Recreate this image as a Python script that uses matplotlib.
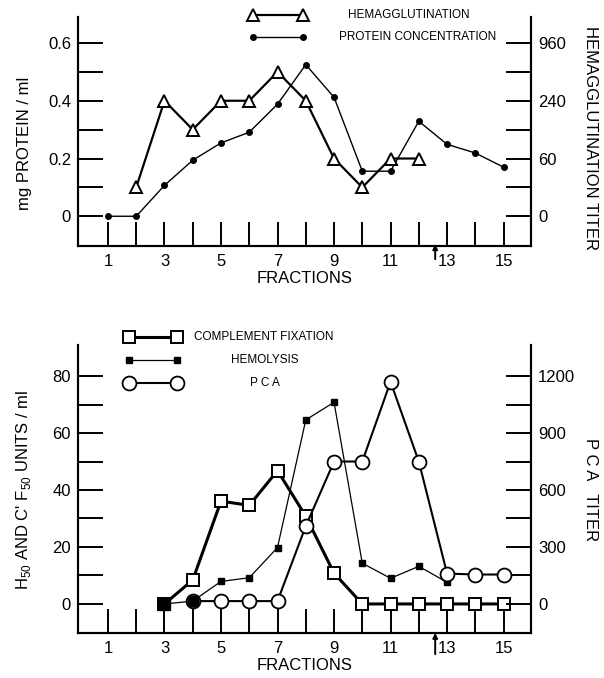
import matplotlib
matplotlib.use("Agg")
import matplotlib.pyplot as plt
import matplotlib.transforms as mtransforms
import numpy as np
from matplotlib.lines import Line2D
from matplotlib.ticker import FixedFormatter, FixedLocator, NullFormatter

plt.rcParams["font.family"] = ["Liberation Sans", "DejaVu Sans"]

# --- top panel: protein and hemagglutination per fraction ---
FRACTIONS = np.arange(1, 16)
PROTEIN_MG_ML = [0.0, 0.0, 0.107, 0.194, 0.254, 0.291, 0.388, 0.525,
                 0.412, 0.156, 0.156, 0.329, 0.249, 0.219, 0.170]
HA_FRACTIONS = np.arange(2, 13)
HA_TITER = [30, 240, 120, 240, 240, 480, 240, 60, 30, 60, 60]
HA_TICKS = [15, 60, 240, 960]          # lowest step of the dilution scale is printed as 0
HA_TICK_LABELS = ["0", "60", "240", "960"]
HA_MINOR = [30, 120, 480]

# --- bottom panel: complement fixation, hemolysis, PCA ---
CF_FRACTIONS = np.arange(3, 16)
CF_UNITS = [0, 8.4, 36.1, 34.6, 46.8, 30.8, 10.8, 0, 0, 0, 0, 0, 0]
HEMOLYSIS_FRACTIONS = np.arange(3, 14)
HEMOLYSIS_UNITS = [0, 1, 7.9, 9.2, 19.8, 64.6, 70.8, 14.3, 9.0, 13.2, 7.6]
PCA_FRACTIONS = np.arange(4, 16)
PCA_TITER = [15, 15, 15, 15, 410, 750, 750, 1170, 750, 160, 155, 155]

X_TICKS = list(range(1, 16))
X_TICK_LABELS = [str(f) if f % 2 else "" for f in X_TICKS]

W_PX, H_PX = 604, 678


def fig_xy(x, y):
    return x / W_PX, 1 - y / H_PX


def ha_fwd(t):
    t = np.maximum(np.asarray(t, dtype=float), 1e-6)
    return 0.2 + 0.2 * np.log(t / 60.0) / np.log(4.0)


def ha_inv(y):
    return 60.0 * 4.0 ** ((np.asarray(y, dtype=float) - 0.2) / 0.2)


def style_axes(ax):
    ax.spines["top"].set_visible(False)
    for spine in ax.spines.values():
        spine.set_linewidth(1.5)
    ax.set_xlim(-0.06, 15.97)
    ax.xaxis.set_major_locator(FixedLocator(X_TICKS))
    ax.xaxis.set_major_formatter(FixedFormatter(X_TICK_LABELS))
    ax.tick_params(axis="x", direction="in", length=17, width=1.4, pad=6, labelsize=12)
    ax.tick_params(axis="y", which="both", direction="in", length=18, width=1.4,
                   pad=5, labelsize=12)
    ax.set_xlabel("FRACTIONS", fontsize=12, labelpad=1)


def fraction_arrow(ax, top, bottom):
    trans = mtransforms.blended_transform_factory(ax.transData, ax.transAxes)
    ax.annotate("", xy=(12.58, top), xytext=(12.58, bottom), xycoords=trans,
                textcoords=trans, annotation_clip=False,
                arrowprops=dict(arrowstyle="-|>", lw=1.4, color="black", mutation_scale=7))


def legend_row(fig, x0, x1, y, text_x, label, **line_kw):
    fx0, fy = fig_xy(x0, y)
    fx1, _ = fig_xy(x1, y)
    fig.add_artist(Line2D([fx0, fx1], [fy, fy], transform=fig.transFigure, **line_kw))
    tx, _ = fig_xy(text_x, y)
    fig.text(tx, fy, label, ha="center", va="center", fontsize=8.5)


fig = plt.figure(figsize=(6.04, 6.78), dpi=100)

# top panel
ax_top = fig.add_axes([78 / W_PX, 1 - 246 / H_PX, 453 / W_PX, 229 / H_PX])
style_axes(ax_top)
ax_top.set_ylim(-0.103, 0.69)
ax_top.yaxis.set_major_locator(FixedLocator([0, 0.2, 0.4, 0.6]))
ax_top.yaxis.set_major_formatter(FixedFormatter(["0", "0.2", "0.4", "0.6"]))
ax_top.yaxis.set_minor_locator(FixedLocator([0.1, 0.3, 0.5]))
ax_top.plot(FRACTIONS, PROTEIN_MG_ML, color="black", lw=1.0, marker="o", ms=4)

ax_ha = ax_top.twinx()
ax_ha.spines["top"].set_visible(False)
for spine in ax_ha.spines.values():
    spine.set_linewidth(1.5)
ax_ha.set_yscale("function", functions=(ha_fwd, ha_inv))
ax_ha.set_ylim(float(ha_inv(-0.103)), float(ha_inv(0.69)))
ax_ha.yaxis.set_major_locator(FixedLocator(HA_TICKS))
ax_ha.yaxis.set_major_formatter(FixedFormatter(HA_TICK_LABELS))
ax_ha.yaxis.set_minor_locator(FixedLocator(HA_MINOR))
ax_ha.yaxis.set_minor_formatter(NullFormatter())
ax_ha.tick_params(axis="y", which="both", direction="in", length=18, width=1.4,
                  pad=5, labelsize=12)
ax_ha.plot(HA_FRACTIONS, HA_TITER, color="black", lw=1.6, marker="^", ms=9,
           mfc="white", mew=1.4)
fraction_arrow(ax_top, 0.02, -0.07)

# bottom panel
ax_bot = fig.add_axes([78 / W_PX, 1 - 633 / H_PX, 453 / W_PX, 288 / H_PX])
style_axes(ax_bot)
ax_bot.set_ylim(-10.2, 90.9)
ax_bot.yaxis.set_major_locator(FixedLocator([0, 20, 40, 60, 80]))
ax_bot.yaxis.set_minor_locator(FixedLocator([10, 30, 50, 70]))
ax_bot.plot(HEMOLYSIS_FRACTIONS, HEMOLYSIS_UNITS, color="black", lw=0.9, marker="s", ms=4)
ax_bot.plot(CF_FRACTIONS, CF_UNITS, color="black", lw=2.2, marker="s", ms=9,
            mfc="white", mew=1.4)
ax_bot.plot(CF_FRACTIONS[:1], CF_UNITS[:1], color="black", marker="s", ms=9, ls="none")

ax_pca = ax_bot.twinx()
ax_pca.spines["top"].set_visible(False)
for spine in ax_pca.spines.values():
    spine.set_linewidth(1.5)
ax_pca.set_ylim(-10.2 * 15, 90.9 * 15)
ax_pca.yaxis.set_major_locator(FixedLocator([0, 300, 600, 900, 1200]))
ax_pca.yaxis.set_minor_locator(FixedLocator([150, 450, 750, 1050]))
ax_pca.tick_params(axis="y", which="both", direction="in", length=18, width=1.4,
                   pad=5, labelsize=12)
ax_pca.plot(PCA_FRACTIONS, PCA_TITER, color="black", lw=1.5, marker="o", ms=10,
            mfc="white", mew=1.3)
ax_pca.plot(PCA_FRACTIONS[:1], PCA_TITER[:1], color="black", marker="o", ms=8, ls="none")
fraction_arrow(ax_bot, 0.01, -0.083)

# axis titles
fig.text(*fig_xy(25, 143), "mg PROTEIN / ml", rotation=90, ha="center", va="center", fontsize=12)
fig.text(*fig_xy(591, 138), "HEMAGGLUTINATION TITER", rotation=-90, ha="center",
         va="center", fontsize=12)
fig.text(*fig_xy(24, 490), "H$_{\\mathregular{50}}$ AND C' F$_{\\mathregular{50}}$ UNITS / ml",
         rotation=90, ha="center", va="center", fontsize=12)
fig.text(*fig_xy(591, 490), "P C A   TITER", rotation=-90, ha="center", va="center", fontsize=12)

# hand-placed legends
legend_row(fig, 253, 303, 15, 409, "HEMAGGLUTINATION", color="black", lw=1.6,
           marker="^", ms=9, mfc="white", mew=1.4)
legend_row(fig, 253, 303, 37, 418, "PROTEIN CONCENTRATION", color="black", lw=1.0,
           marker="o", ms=4)
legend_row(fig, 129, 177, 337, 264, "COMPLEMENT FIXATION", color="black", lw=2.2,
           marker="s", ms=9, mfc="white", mew=1.4)
legend_row(fig, 129, 177, 360, 265, "HEMOLYSIS", color="black", lw=0.9, marker="s", ms=4)
legend_row(fig, 129, 177, 383, 265, "P C A", color="black", lw=1.5, marker="o", ms=10,
           mfc="white", mew=1.3)

fig.savefig("out.png", dpi=100)
